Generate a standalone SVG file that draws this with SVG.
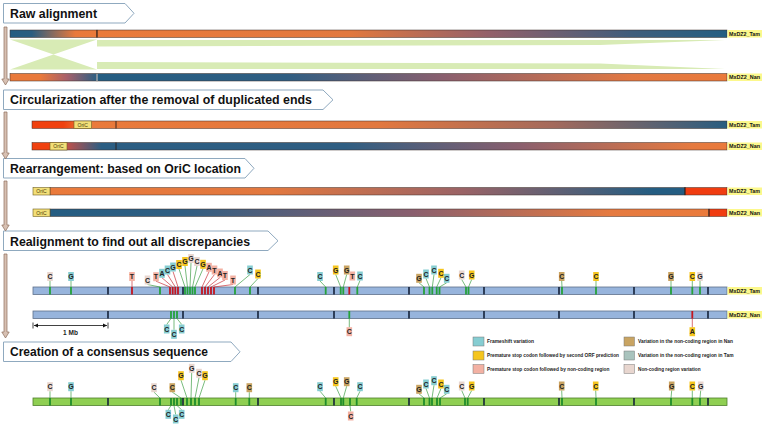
<svg xmlns="http://www.w3.org/2000/svg" width="764" height="428" viewBox="0 0 764 428">
<style>
.hb{fill:#fff;stroke:#8fa9bf;stroke-width:1}
.ht{font-family:"Liberation Sans",Arial,sans-serif;font-weight:bold;font-size:13px;fill:#111}
.fa{fill:#d7c0b2;stroke:#8c6d5c;stroke-width:0.7}
.bo{stroke:#3c2e28;stroke-width:0.5}
.dv{stroke:#2a1e18;stroke-width:0.9}
.nm rect{fill:#fcf88c}
.nm text{font-family:"Liberation Sans",Arial,sans-serif;font-weight:bold;font-size:5.5px;fill:#111}
.oc rect{fill:#f3df78;stroke:#6e6024;stroke-width:0.6}
.oc text{font-family:"Liberation Sans",Arial,sans-serif;font-size:5px;fill:#4a3e0c;text-anchor:middle}
.rb{fill:#97b4dc;stroke:#5f708a;stroke-width:0.8}
.cb{fill:#8fcf52;stroke:#4f7f2c;stroke-width:0.8}
.dk{stroke:#14223a;stroke-width:1.6;fill:none}
.tg{stroke:#25a23a;stroke-width:1.8;fill:none}
.tr{stroke:#c4161f;stroke-width:1.8;fill:none}
.tc{stroke:#1f8d2c;stroke-width:1.8;fill:none}
.lg{stroke:#3f9f46;stroke-width:0.7;fill:none}
.lr{stroke:#c9303a;stroke-width:0.7;fill:none}
.lb text{font-family:"Liberation Sans",Arial,sans-serif;font-weight:bold;font-size:7px;fill:#222;text-anchor:middle}
.fs{fill:#86cdd2}
.ps{fill:#f5c51e}
.pn{fill:#f3b1a3}
.vn{fill:#c9a462}
.vt{fill:#a9c3bd}
.nc{fill:#e8d6cf}
.leg rect{stroke:#7a7a7a;stroke-width:0.5}
.leg text{font-family:"Liberation Sans",Arial,sans-serif;font-weight:bold;font-size:4.8px;fill:#222}
</style>
<defs>
<linearGradient id="gRTL"><stop offset="0" stop-color="#245d82"/><stop offset="0.25" stop-color="#2a5d80"/><stop offset="0.75" stop-color="#e9793b"/><stop offset="1" stop-color="#ea7a3b"/></linearGradient>
<linearGradient id="gRTR"><stop offset="0" stop-color="#ea7a3b"/><stop offset="0.4" stop-color="#e2783f"/><stop offset="0.62" stop-color="#94606a"/><stop offset="0.85" stop-color="#3f5d7c"/><stop offset="1" stop-color="#245d82"/></linearGradient>
<linearGradient id="gRNL"><stop offset="0" stop-color="#e9793b"/><stop offset="0.35" stop-color="#e9793b"/><stop offset="0.65" stop-color="#a8606a"/><stop offset="1" stop-color="#2b5f83"/></linearGradient>
<linearGradient id="gRNR"><stop offset="0" stop-color="#245d82"/><stop offset="0.3" stop-color="#2f5e82"/><stop offset="0.55" stop-color="#8a5f6e"/><stop offset="0.85" stop-color="#e27842"/><stop offset="1" stop-color="#ea7a3b"/></linearGradient>
<linearGradient id="gCT"><stop offset="0" stop-color="#f0410f"/><stop offset="0.045" stop-color="#f0410f"/><stop offset="0.075" stop-color="#ea7a3b"/><stop offset="0.5" stop-color="#e2783f"/><stop offset="0.75" stop-color="#a46a5c"/><stop offset="1" stop-color="#2a5d80"/></linearGradient>
<linearGradient id="gCN"><stop offset="0" stop-color="#f0410f"/><stop offset="0.026" stop-color="#f0410f"/><stop offset="0.05" stop-color="#c0504a"/><stop offset="0.1" stop-color="#2b5e83"/><stop offset="0.45" stop-color="#2f5e82"/><stop offset="0.7" stop-color="#8a5f6e"/><stop offset="0.95" stop-color="#e57a40"/><stop offset="1" stop-color="#ea7a3b"/></linearGradient>
<linearGradient id="gAT"><stop offset="0" stop-color="#ea7a3b"/><stop offset="0.35" stop-color="#e2783f"/><stop offset="0.65" stop-color="#9a6366"/><stop offset="0.95" stop-color="#245d82"/><stop offset="1" stop-color="#245d82"/></linearGradient>
<linearGradient id="gAN"><stop offset="0" stop-color="#245d82"/><stop offset="0.2" stop-color="#2f5e82"/><stop offset="0.55" stop-color="#8a5f6e"/><stop offset="0.85" stop-color="#e57a40"/><stop offset="1" stop-color="#ea7a3b"/></linearGradient>
</defs>

<!-- headers -->
<g id="h1"><path class="hb" d="M3.5,3.5 H125 L134,13.3 L125,23 H3.5 Z"/><text class="ht" x="10" y="18.3" textLength="87" lengthAdjust="spacingAndGlyphs">Raw alignment</text></g>
<g id="h2"><path class="hb" d="M3.5,90 H323 L333,99.8 L323,109.5 H3.5 Z"/><text class="ht" x="10" y="104.3" textLength="302" lengthAdjust="spacingAndGlyphs">Circularization after the removal of duplicated ends</text></g>
<g id="h3"><path class="hb" d="M3.5,158.5 H245 L254,168.3 L245,178 H3.5 Z"/><text class="ht" x="10" y="173" textLength="231" lengthAdjust="spacingAndGlyphs">Rearrangement: based on OriC location</text></g>
<g id="h4"><path class="hb" d="M3.5,231 H268 L278,240.8 L268,250.5 H3.5 Z"/><text class="ht" x="10" y="245.5" textLength="240" lengthAdjust="spacingAndGlyphs">Realignment to find out all discrepancies</text></g>
<g id="h5"><path class="hb" d="M3.5,342 H231 L240,351.8 L231,361.5 H3.5 Z"/><text class="ht" x="10" y="356.3" textLength="198" lengthAdjust="spacingAndGlyphs">Creation of a consensus sequence</text></g>

<!-- raw alignment -->
<g id="rawSynteny" fill="#d8ebb5">
<path d="M10,39.5 L97,39.5 L10,69.5 L97,69.5 Z"/>
<path d="M97,40 H725 L600,45 L97,46.5 Z"/>
<path d="M97,69 H725 L600,63.5 L97,62 Z"/>
</g>
<g id="rawTam">
<rect class="bo" x="10" y="30" width="87" height="7.5" fill="url(#gRTL)"/>
<rect class="bo" x="97" y="30" width="630" height="7.5" fill="url(#gRTR)"/>
<path class="dv" d="M97,30v7.5"/>
<g class="nm"><rect x="727.5" y="30" width="34.5" height="7.5"/><text x="729" y="35.8" textLength="31" lengthAdjust="spacingAndGlyphs">MxDZ2_Tam</text></g>
</g>
<g id="rawNan">
<rect class="bo" x="10" y="73.5" width="87" height="7.5" fill="url(#gRNL)"/>
<rect class="bo" x="97" y="73.5" width="630" height="7.5" fill="url(#gRNR)"/>
<path d="M97,73.5v7.5" stroke="#e8e8e8" stroke-width="0.9"/>
<g class="nm"><rect x="727.5" y="73.5" width="34.5" height="7.5"/><text x="729" y="79.3" textLength="31" lengthAdjust="spacingAndGlyphs">MxDZ2_Nan</text></g>
</g>

<!-- circularization -->
<g id="cirTam">
<rect class="bo" x="32" y="121" width="695" height="7.5" fill="url(#gCT)"/>
<path class="dv" d="M116,121v7.5"/>
<g class="oc"><rect x="74" y="121" width="17.5" height="7.5"/><text x="82.7" y="126.6">OriC</text></g>
<g class="nm"><rect x="727.5" y="121" width="34.5" height="7.5"/><text x="729" y="126.8" textLength="31" lengthAdjust="spacingAndGlyphs">MxDZ2_Tam</text></g>
</g>
<g id="cirNan">
<rect class="bo" x="32" y="142.5" width="695" height="7.5" fill="url(#gCN)"/>
<path class="dv" d="M116,142.5v7.5"/>
<g class="oc"><rect x="50" y="142.5" width="17" height="7.5"/><text x="58.5" y="148.1">OriC</text></g>
<g class="nm"><rect x="727.5" y="142.5" width="34.5" height="7.5"/><text x="729" y="148.3" textLength="31" lengthAdjust="spacingAndGlyphs">MxDZ2_Nan</text></g>
</g>

<!-- rearrangement -->
<g id="arrTam">
<rect class="bo" x="50" y="187.5" width="635" height="7.5" fill="url(#gAT)"/>
<rect class="bo" x="685" y="187.5" width="42" height="7.5" fill="#f03c10"/>
<path class="dv" d="M685,187.5v7.5"/>
<g class="oc"><rect x="33" y="187.5" width="17" height="7.5"/><text x="41.5" y="193.1">OriC</text></g>
<g class="nm"><rect x="727.5" y="187.5" width="34.5" height="7.5"/><text x="729" y="193.3" textLength="31" lengthAdjust="spacingAndGlyphs">MxDZ2_Tam</text></g>
</g>
<g id="arrNan">
<rect class="bo" x="50" y="209" width="659" height="7.5" fill="url(#gAN)"/>
<rect class="bo" x="709" y="209" width="18" height="7.5" fill="#f03c10"/>
<path class="dv" d="M709,209v7.5"/>
<g class="oc"><rect x="33" y="209" width="17" height="7.5"/><text x="41.5" y="214.6">OriC</text></g>
<g class="nm"><rect x="727.5" y="209" width="34.5" height="7.5"/><text x="729" y="214.8" textLength="31" lengthAdjust="spacingAndGlyphs">MxDZ2_Nan</text></g>
</g>

<!-- realignment bars -->
<g id="reTam">
<rect class="rb" x="33" y="287" width="694" height="7.5"/>
<path class="tg" d="M50,287v7.5M71,287v7.5M160,287v7.5M185,287v7.5M187.5,287v7.5M190,287v7.5M192.5,287v7.5M195,287v7.5M235,287v7.5M250,287v7.5M325.7,287v7.5M340.7,287v7.5M343.3,287v7.5M357.3,287v7.5M424,287v7.5M429.5,287v7.5M432.3,287v7.5M436.7,287v7.5M439.5,287v7.5M466,287v7.5M468.5,287v7.5M562,287v7.5M596,287v7.5M671,287v7.5M692.3,287v7.5M700,287v7.5"/>
<path class="tr" d="M132,287v7.5M170,287v7.5M172.7,287v7.5M175.3,287v7.5M178,287v7.5M202,287v7.5M205,287v7.5M208,287v7.5M211,287v7.5M214,287v7.5M349.3,287v7.5"/>
<path class="dk" d="M108,287v7.5M183,287v7.5M258,287v7.5M334,287v7.5M409,287v7.5M484,287v7.5M559,287v7.5M634,287v7.5M708,287v7.5"/>
<g class="nm"><rect x="727.5" y="287" width="34.5" height="7.5"/><text x="729" y="292.8" textLength="31" lengthAdjust="spacingAndGlyphs">MxDZ2_Tam</text></g>
</g>
<g id="reNan">
<rect class="rb" x="33" y="311" width="694" height="7.5"/>
<path class="tg" d="M171,311v7.5M174,311v7.5M177,311v7.5M349.3,311v7.5"/>
<path class="tr" d="M692.3,311v7.5"/>
<path class="dk" d="M108,311v7.5M183,311v7.5M258,311v7.5M334,311v7.5M409,311v7.5M484,311v7.5M559,311v7.5M634,311v7.5M708,311v7.5"/>
<g class="nm"><rect x="727.5" y="311" width="34.5" height="7.5"/><text x="729" y="316.8" textLength="31" lengthAdjust="spacingAndGlyphs">MxDZ2_Nan</text></g>
</g>
<g id="scale">
<path d="M33,322.5V328.5M108,322.5V328.5M34,325.5H107" stroke="#111" stroke-width="0.8" fill="none"/>
<path d="M34,325.5 L38,323.6 L38,327.4 Z M107,325.5 L103,323.6 L103,327.4 Z" fill="#111"/>
<text x="70.5" y="335" font-family="Liberation Sans, Arial, sans-serif" font-weight="bold" font-size="6.5" fill="#222" text-anchor="middle">1 Mb</text>
</g>

<!-- consensus bar -->
<g id="consensus">
<rect class="cb" x="33" y="398" width="694" height="7.5"/>
<path class="tc" d="M50,398v7.5M71,398v7.5M160,398v7.5M171,398v7.5M174,398v7.5M177,398v7.5M181,398v7.5M187,398v7.5M191,398v7.5M195,398v7.5M199,398v7.5M235.7,398v7.5M249.3,398v7.5M325.7,398v7.5M341,398v7.5M343.3,398v7.5M350,398v7.5M356.7,398v7.5M424,398v7.5M429.5,398v7.5M432,398v7.5M437,398v7.5M440,398v7.5M465,398v7.5M467.7,398v7.5M562,398v7.5M596,398v7.5M671,398v7.5M692.3,398v7.5M700,398v7.5"/>
<path class="dk" d="M108,398v7.5M183,398v7.5M258,398v7.5M334,398v7.5M409,398v7.5M484,398v7.5M559,398v7.5M634,398v7.5M708,398v7.5"/>
</g>

<!-- connectors -->
<g id="connectors">
<path class="fa" d="M4,27 H7 V79 H9.2 L5.5,85 L1.8,79 H4 Z"/>
<path class="fa" d="M4,112 H7 V153 H9.2 L5.5,159 L1.8,153 H4 Z"/>
<path class="fa" d="M4,181 H7 V225 H9.2 L5.5,231 L1.8,225 H4 Z"/>
<path class="fa" d="M4,254 H7 V332 H9.2 L5.5,338 L1.8,332 H4 Z"/>
<path class="lg" d="M50,281L50,287M71,281L71,287M147.5,284.5L160,287M179,269L185,287M185,266L187.5,287M191,263L190,287M197,266L192.5,287M203,268.8L195,287M250,274.5L235,287M258,278.5L250,287M320,281L325.7,287M335.7,274.5L340.7,287M346.7,274.5L343.3,287M360,280.5L357.3,287M419,282.8L424,287M426,278.5L429.5,287M434,274.5L432.3,287M441,277.8L436.7,287M446.7,282.8L439.5,287M461.7,279.5L466,287M471.7,279.5L468.5,287M561.7,281L562,287M596,281L596,287M671,281L671,287M692.3,281L692.3,287M700,281L700,287"/>
<path class="lr" d="M132,281L132,287M156,281.2L170,287M162,277.8L172.7,287M167.5,274.5L175.3,287M173,271.5L178,287M209,271.8L202,287M214.5,274.5L205,287M220,277.5L208,287M225,280L211,287M233,284.5L214,287"/>
<path class="lg" d="M171,318.5L166.7,324.5M174,318.5L174,329.8M177,318.5L181.7,324.5M349.3,318.5L349.3,327.2"/>
<path class="lr" d="M692.3,318.5L692.3,327.2"/>
<path class="lg" d="M50,391.2L50,398M71,391.2L71,398M154,392.2L160,398M172.3,392.2L181,398M181,380.2L187,398M191.7,372.8L191,398M199,377.8L195,398M205,380.2L199,398M235.7,392.2L235.7,398M249.3,392.2L249.3,398M320,391.2L325.7,398M335.7,386.2L341,398M346.7,386.2L343.3,398M360,391.2L356.7,398M419,393.8L424,398M426,388.5L429.5,398M434,385.2L432,398M441,388.5L437,398M446.7,393.8L440,398M461.7,390.5L465,398M471.7,390.5L467.7,398M561.7,390.5L562,398M595.7,390.5L596,398M671.7,390.5L671,398M692.3,390.5L692.3,398M700.7,390.5L700,398M171,405.5L168.3,409.8M174,405.5L175.7,414.5M177,405.5L181.7,409.8M350,405.5L350.7,411.5"/>
</g>

<!-- realignment Tam labels -->
<g class="lb">
<g id="t1"><rect class="nc" x="47.2" y="272" width="5.6" height="9"/><text x="50" y="279">C</text></g>
<g id="t2"><rect class="fs" x="68.2" y="272" width="5.6" height="9"/><text x="71" y="279">G</text></g>
<g id="t3"><rect class="pn" x="129.2" y="272" width="5.6" height="9"/><text x="132" y="279">T</text></g>
<g id="t4"><rect class="nc" x="144.7" y="275.5" width="5.6" height="9"/><text x="147.5" y="282.5">C</text></g>
<g id="t5"><rect class="pn" x="153.2" y="272.2" width="5.6" height="9"/><text x="156" y="279.2">T</text></g>
<g id="t6"><rect class="fs" x="159.2" y="268.8" width="5.6" height="9"/><text x="162" y="275.8">A</text></g>
<g id="t7"><rect class="fs" x="164.7" y="265.5" width="5.6" height="9"/><text x="167.5" y="272.5">C</text></g>
<g id="t8"><rect class="fs" x="170.2" y="262.5" width="5.6" height="9"/><text x="173" y="269.5">G</text></g>
<g id="t9"><rect class="ps" x="176.2" y="260" width="5.6" height="9"/><text x="179" y="267">C</text></g>
<g id="t10"><rect class="ps" x="182.2" y="257" width="5.6" height="9"/><text x="185" y="264">G</text></g>
<g id="t11"><rect class="nc" x="188.2" y="254" width="5.6" height="9"/><text x="191" y="261">G</text></g>
<g id="t12"><rect class="nc" x="194.2" y="257" width="5.6" height="9"/><text x="197" y="264">C</text></g>
<g id="t13"><rect class="ps" x="200.2" y="259.8" width="5.6" height="9"/><text x="203" y="266.8">G</text></g>
<g id="t14"><rect class="pn" x="206.2" y="262.8" width="5.6" height="9"/><text x="209" y="269.8">A</text></g>
<g id="t15"><rect class="pn" x="211.7" y="265.5" width="5.6" height="9"/><text x="214.5" y="272.5">T</text></g>
<g id="t16"><rect class="pn" x="217.2" y="268.5" width="5.6" height="9"/><text x="220" y="275.5">A</text></g>
<g id="t17"><rect class="pn" x="222.2" y="271" width="5.6" height="9"/><text x="225" y="278">T</text></g>
<g id="t18"><rect class="pn" x="230.2" y="275.5" width="5.6" height="9"/><text x="233" y="282.5">T</text></g>
<g id="t19"><rect class="fs" x="247.2" y="265.5" width="5.6" height="9"/><text x="250" y="272.5">C</text></g>
<g id="t20"><rect class="ps" x="255.2" y="269.5" width="5.6" height="9"/><text x="258" y="276.5">C</text></g>
<g id="t21"><rect class="fs" x="317.2" y="272" width="5.6" height="9"/><text x="320" y="279">C</text></g>
<g id="t22"><rect class="ps" x="332.9" y="265.5" width="5.6" height="9"/><text x="335.7" y="272.5">G</text></g>
<g id="t23"><rect class="vn" x="343.9" y="265.5" width="5.6" height="9"/><text x="346.7" y="272.5">G</text></g>
<g id="t24"><rect class="pn" x="349.5" y="271.5" width="5.6" height="9"/><text x="352.3" y="278.5">T</text></g>
<g id="t25"><rect class="fs" x="357.2" y="271.5" width="5.6" height="9"/><text x="360" y="278.5">C</text></g>
<g id="t26"><rect class="vn" x="416.2" y="273.8" width="5.6" height="9"/><text x="419" y="280.8">G</text></g>
<g id="t27"><rect class="fs" x="423.2" y="269.5" width="5.6" height="9"/><text x="426" y="276.5">C</text></g>
<g id="t28"><rect class="fs" x="431.2" y="265.5" width="5.6" height="9"/><text x="434" y="272.5">C</text></g>
<g id="t29"><rect class="ps" x="438.2" y="268.8" width="5.6" height="9"/><text x="441" y="275.8">C</text></g>
<g id="t30"><rect class="fs" x="443.9" y="273.8" width="5.6" height="9"/><text x="446.7" y="280.8">C</text></g>
<g id="t31"><rect class="nc" x="458.9" y="270.5" width="5.6" height="9"/><text x="461.7" y="277.5">C</text></g>
<g id="t32"><rect class="ps" x="468.9" y="270.5" width="5.6" height="9"/><text x="471.7" y="277.5">G</text></g>
<g id="t33"><rect class="vn" x="558.9" y="272" width="5.6" height="9"/><text x="561.7" y="279">C</text></g>
<g id="t34"><rect class="ps" x="593.2" y="272" width="5.6" height="9"/><text x="596" y="279">C</text></g>
<g id="t35"><rect class="vn" x="668.2" y="272" width="5.6" height="9"/><text x="671" y="279">G</text></g>
<g id="t36"><rect class="ps" x="689.5" y="272" width="5.6" height="9"/><text x="692.3" y="279">C</text></g>
<g id="t37"><rect class="nc" x="697.2" y="272" width="5.6" height="9"/><text x="700" y="279">G</text></g>
<!-- Nan -->
<g id="n1"><rect class="fs" x="163.9" y="324.5" width="5.6" height="9"/><text x="166.7" y="331.5">C</text></g>
<g id="n2"><rect class="fs" x="171.2" y="329.8" width="5.6" height="9"/><text x="174" y="336.8">C</text></g>
<g id="n3"><rect class="fs" x="178.9" y="324.5" width="5.6" height="9"/><text x="181.7" y="331.5">C</text></g>
<g id="n4"><rect class="pn" x="346.5" y="327.2" width="5.6" height="9"/><text x="349.3" y="334.2">C</text></g>
<g id="n5"><rect class="ps" x="689.5" y="327.2" width="5.6" height="9"/><text x="692.3" y="334.2">A</text></g>
<!-- consensus -->
<g id="c1"><rect class="nc" x="47.2" y="382.2" width="5.6" height="9"/><text x="50" y="389.2">C</text></g>
<g id="c2"><rect class="fs" x="68.2" y="382.2" width="5.6" height="9"/><text x="71" y="389.2">G</text></g>
<g id="c3"><rect class="nc" x="151.2" y="383.2" width="5.6" height="9"/><text x="154" y="390.2">C</text></g>
<g id="c4"><rect class="vn" x="169.5" y="383.2" width="5.6" height="9"/><text x="172.3" y="390.2">C</text></g>
<g id="c5"><rect class="ps" x="178.2" y="371.2" width="5.6" height="9"/><text x="181" y="378.2">G</text></g>
<g id="c6"><rect class="nc" x="188.9" y="363.8" width="5.6" height="9"/><text x="191.7" y="370.8">G</text></g>
<g id="c7"><rect class="nc" x="196.2" y="368.8" width="5.6" height="9"/><text x="199" y="375.8">C</text></g>
<g id="c8"><rect class="ps" x="202.2" y="371.2" width="5.6" height="9"/><text x="205" y="378.2">G</text></g>
<g id="c9"><rect class="fs" x="232.9" y="383.2" width="5.6" height="9"/><text x="235.7" y="390.2">C</text></g>
<g id="c10"><rect class="vn" x="246.5" y="383.2" width="5.6" height="9"/><text x="249.3" y="390.2">C</text></g>
<g id="c11"><rect class="fs" x="317.2" y="382.2" width="5.6" height="9"/><text x="320" y="389.2">C</text></g>
<g id="c12"><rect class="ps" x="332.9" y="377.2" width="5.6" height="9"/><text x="335.7" y="384.2">G</text></g>
<g id="c13"><rect class="vn" x="343.9" y="377.2" width="5.6" height="9"/><text x="346.7" y="384.2">G</text></g>
<g id="c14"><rect class="fs" x="357.2" y="382.2" width="5.6" height="9"/><text x="360" y="389.2">C</text></g>
<g id="c15"><rect class="vn" x="416.2" y="384.8" width="5.6" height="9"/><text x="419" y="391.8">G</text></g>
<g id="c16"><rect class="fs" x="423.2" y="379.5" width="5.6" height="9"/><text x="426" y="386.5">C</text></g>
<g id="c17"><rect class="fs" x="431.2" y="376.2" width="5.6" height="9"/><text x="434" y="383.2">C</text></g>
<g id="c18"><rect class="ps" x="438.2" y="379.5" width="5.6" height="9"/><text x="441" y="386.5">C</text></g>
<g id="c19"><rect class="fs" x="443.9" y="384.8" width="5.6" height="9"/><text x="446.7" y="391.8">C</text></g>
<g id="c20"><rect class="nc" x="458.9" y="381.5" width="5.6" height="9"/><text x="461.7" y="388.5">C</text></g>
<g id="c21"><rect class="ps" x="468.9" y="381.5" width="5.6" height="9"/><text x="471.7" y="388.5">G</text></g>
<g id="c22"><rect class="vn" x="558.9" y="381.5" width="5.6" height="9"/><text x="561.7" y="388.5">C</text></g>
<g id="c23"><rect class="ps" x="592.9" y="381.5" width="5.6" height="9"/><text x="595.7" y="388.5">C</text></g>
<g id="c24"><rect class="vn" x="668.9" y="381.5" width="5.6" height="9"/><text x="671.7" y="388.5">G</text></g>
<g id="c25"><rect class="ps" x="689.5" y="381.5" width="5.6" height="9"/><text x="692.3" y="388.5">C</text></g>
<g id="c26"><rect class="nc" x="697.9" y="381.5" width="5.6" height="9"/><text x="700.7" y="388.5">G</text></g>
<g id="c27"><rect class="fs" x="165.5" y="409.8" width="5.6" height="9"/><text x="168.3" y="416.8">C</text></g>
<g id="c28"><rect class="fs" x="172.9" y="414.5" width="5.6" height="9"/><text x="175.7" y="421.5">C</text></g>
<g id="c29"><rect class="fs" x="178.9" y="409.8" width="5.6" height="9"/><text x="181.7" y="416.8">C</text></g>
<g id="c30"><rect class="pn" x="347.9" y="411.5" width="5.6" height="9"/><text x="350.7" y="418.5">C</text></g>
</g>

<!-- legend -->
<g id="legend" class="leg">
<rect class="fs" x="473" y="337" width="11" height="9"/><text x="487" y="343.2" textLength="47" lengthAdjust="spacingAndGlyphs">Frameshift variation</text>
<rect class="ps" x="473" y="351" width="11" height="9"/><text x="487" y="357.2" textLength="132" lengthAdjust="spacingAndGlyphs">Premature stop codon followed by second ORF prediction</text>
<rect class="pn" x="473" y="364.5" width="11" height="9"/><text x="487" y="370.7" textLength="122.5" lengthAdjust="spacingAndGlyphs">Premature stop codon followed by non-coding region</text>
<rect class="vn" x="624" y="337" width="10.5" height="9"/><text x="638" y="343.2" textLength="95" lengthAdjust="spacingAndGlyphs">Variation in the non-coding region in Nan</text>
<rect class="vt" x="624" y="351" width="10.5" height="9"/><text x="638" y="357.2" textLength="95.5" lengthAdjust="spacingAndGlyphs">Variation in the non-coding region in Tam</text>
<rect class="nc" x="624" y="364.5" width="10.5" height="9"/><text x="638" y="370.7" textLength="62.5" lengthAdjust="spacingAndGlyphs">Non-coding region variation</text>
</g>
</svg>
